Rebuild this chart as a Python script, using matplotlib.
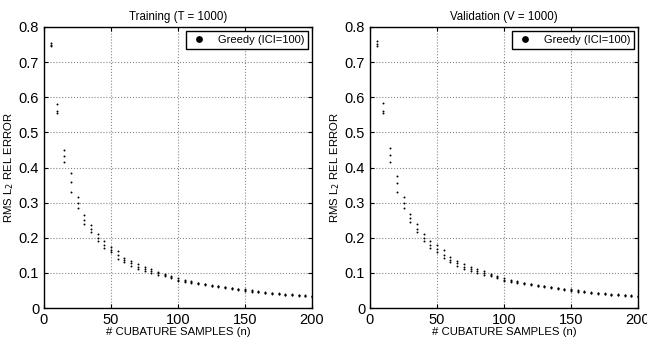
import numpy as np
import matplotlib.pyplot as plt

plt.rcParams['font.family'] = ['Liberation Sans', 'DejaVu Sans']

n = list(range(5, 201, 5))

# training errors: spread of trials at each n (low, mid, high)
train_lo = [0.745, 0.555, 0.415, 0.330, 0.285, 0.240, 0.215, 0.190, 0.170, 0.160,
            0.140, 0.130, 0.120, 0.110, 0.105, 0.100, 0.095, 0.090, 0.085, 0.077,
            0.075, 0.072, 0.068, 0.065, 0.062, 0.060, 0.057, 0.054, 0.051, 0.049,
            0.046, 0.045, 0.043, 0.041, 0.039, 0.037, 0.036, 0.035, 0.033, 0.032]
train_mid = [0.750, 0.562, 0.432, 0.360, 0.298, 0.250, 0.224, 0.198, 0.180, 0.166,
             0.150, 0.136, 0.127, 0.117, 0.111, 0.105, 0.099, 0.093, 0.088, 0.081,
             0.077, 0.074, 0.070, 0.067, 0.064, 0.062, 0.059, 0.056, 0.053, 0.051,
             0.048, 0.046, 0.044, 0.042, 0.040, 0.038, 0.037, 0.036, 0.034, 0.033]
train_hi = [0.755, 0.580, 0.450, 0.385, 0.315, 0.265, 0.235, 0.210, 0.190, 0.175,
            0.162, 0.143, 0.135, 0.125, 0.118, 0.112, 0.103, 0.097, 0.092, 0.085,
            0.080, 0.077, 0.072, 0.069, 0.066, 0.064, 0.061, 0.058, 0.055, 0.053,
            0.050, 0.048, 0.046, 0.044, 0.042, 0.040, 0.039, 0.037, 0.036, 0.034]

# validation errors
val_lo = [0.745, 0.555, 0.415, 0.330, 0.285, 0.245, 0.215, 0.190, 0.170, 0.160,
          0.142, 0.130, 0.120, 0.110, 0.105, 0.100, 0.095, 0.090, 0.085, 0.077,
          0.075, 0.072, 0.068, 0.065, 0.062, 0.060, 0.057, 0.054, 0.051, 0.049,
          0.046, 0.045, 0.043, 0.041, 0.039, 0.037, 0.036, 0.035, 0.033, 0.032]
val_mid = [0.752, 0.562, 0.435, 0.355, 0.298, 0.255, 0.226, 0.200, 0.180, 0.168,
           0.150, 0.137, 0.127, 0.118, 0.111, 0.105, 0.099, 0.093, 0.088, 0.081,
           0.077, 0.074, 0.070, 0.067, 0.064, 0.062, 0.059, 0.056, 0.053, 0.051,
           0.048, 0.046, 0.044, 0.042, 0.040, 0.038, 0.037, 0.036, 0.034, 0.033]
val_hi = [0.760, 0.585, 0.455, 0.375, 0.315, 0.268, 0.238, 0.212, 0.192, 0.178,
          0.165, 0.145, 0.135, 0.126, 0.118, 0.112, 0.104, 0.097, 0.092, 0.086,
          0.080, 0.077, 0.072, 0.069, 0.066, 0.064, 0.061, 0.058, 0.055, 0.053,
          0.050, 0.048, 0.046, 0.044, 0.042, 0.040, 0.039, 0.037, 0.036, 0.034]

panels = [
    ("Training (T = 1000)", [train_lo, train_mid, train_hi]),
    ("Validation (V = 1000)", [val_lo, val_mid, val_hi]),
]

fig = plt.figure(figsize=(6.47, 3.37), dpi=100)
lefts = [44 / 647, 370 / 647]

for left, (title, series) in zip(lefts, panels):
    ax = fig.add_axes([left, 29 / 337, 268 / 647, 281 / 337])
    for i, s in enumerate(series):
        ax.plot(n, s, linestyle='none', marker='o', markersize=1.4,
                markeredgewidth=0, color='black',
                label='Greedy (ICI=100)' if i == 0 else None)
    ax.set_xlim(0, 200)
    ax.set_ylim(0, 0.8)
    ax.set_xticks([0, 50, 100, 150, 200])
    ax.set_yticks(np.arange(0, 0.81, 0.1))
    ax.set_yticklabels(['0', '0.1', '0.2', '0.3', '0.4', '0.5', '0.6', '0.7', '0.8'])
    ax.grid(True, linestyle=':', color='#888888', linewidth=0.8)
    ax.tick_params(direction='in', top=True, right=True, labelsize=10.5, length=3)
    for sp in ax.spines.values():
        sp.set_linewidth(1.0)
    ax.set_title(title, fontsize=8.3, pad=5)
    ax.set_xlabel('# CUBATURE SAMPLES (n)', fontsize=8.2, labelpad=0)
    ax.set_ylabel('RMS L$_2$ REL ERROR', fontsize=8.2, labelpad=2)
    leg = ax.legend(loc='upper right', fontsize=8, markerscale=3.5,
                    fancybox=False, edgecolor='black', framealpha=1,
                    borderaxespad=0.35, handletextpad=0.9, handlelength=1.6,
                    borderpad=0.35)
    leg.get_frame().set_linewidth(1.0)

fig.savefig('out.png', dpi=100)
